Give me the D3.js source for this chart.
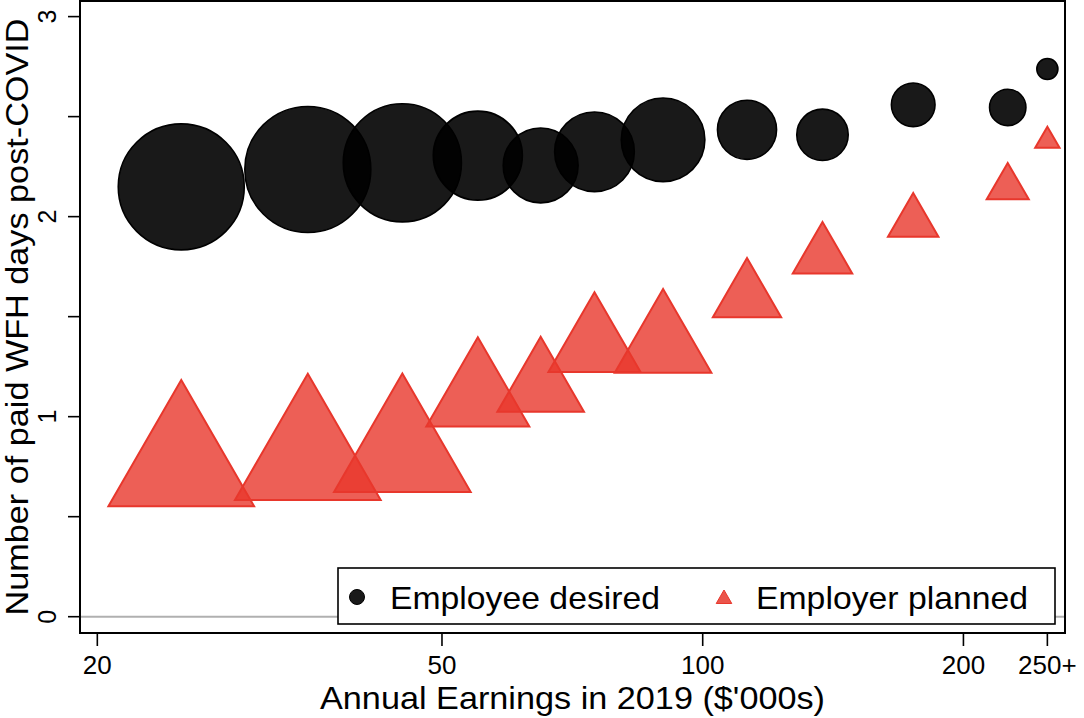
<!DOCTYPE html>
<html>
<head>
<meta charset="utf-8">
<script src="https://cdn.jsdelivr.net/npm/d3@7"></script>
<style>
  html, body { margin: 0; padding: 0; background: #fff; }
  svg { display: block; }
  text { font-family: "Liberation Sans", Arial, Helvetica, sans-serif; fill: #000; }
</style>
</head>
<body>
<svg id="chart" width="1084" height="718"></svg>
<script>
// ---- data ----
const earnings = [25, 35, 45, 55, 65, 75, 90, 112.5, 137.5, 175, 225, 250];
const employeeDesired = [2.149, 2.236, 2.269, 2.305, 2.256, 2.324, 2.384, 2.434, 2.409, 2.559, 2.546, 2.738];
const employerPlanned = [0.763, 0.794, 0.821, 1.100, 1.149, 1.356, 1.359, 1.596, 1.802, 1.972, 2.147, 2.379];
const sampleShare = [15, 15, 13.2, 7.5, 5.3, 6.0, 6.6, 3.3, 2.5, 1.8, 1.25, 0.42];
const xTickValues = [20, 50, 100, 200, 250];
const xTickLabels = ["20", "50", "100", "200", "250+"];
const yMajorTicks = [0, 1, 2, 3];
const yMinorTicks = [0.5, 1.5, 2.5];
const seriesNames = ["Employee desired", "Employer planned"];

// ---- layout ----
const W = 1084, H = 718;
const plot = { left: 80, right: 1065, top: 1, bottom: 633 };
const svg = d3.select("#chart");

const x = d3.scaleLog().domain([19.1, 262]).range([plot.left, plot.right]);
const y = d3.scaleLinear().domain([-0.0815, 3.078]).range([plot.bottom, plot.top]);
const r = d3.scaleSqrt().domain([0, 15]).range([0, 63]);

const RED_STROKE = "#e8372c";

// zero reference line
svg.append("line")
  .attr("x1", plot.left).attr("x2", plot.right)
  .attr("y1", y(0)).attr("y2", y(0))
  .attr("stroke", "#b0b0b0").attr("stroke-width", 2);

const data = earnings.map((e, i) => ({ e, d: employeeDesired[i], p: employerPlanned[i], w: sampleShare[i] }));

// circles (employee desired)
svg.append("g").selectAll("circle").data(data).join("circle")
  .attr("cx", d => x(d.e))
  .attr("cy", d => y(d.d))
  .attr("r", d => r(d.w))
  .attr("fill", "rgba(0,0,0,0.9)")
  .attr("stroke", "#000")
  .attr("stroke-width", 1.6);

// triangles (employer planned), centroid at value
const triSym = d3.symbol().type(d3.symbolTriangle);
svg.append("g").selectAll("path").data(data).join("path")
  .attr("transform", d => `translate(${x(d.e)},${y(d.p)})`)
  .attr("d", d => {
    const R = 1.335 * r(d.w);
    return triSym.size(3 * Math.sqrt(3) * (R / 2) * (R / 2))();
  })
  .attr("fill", "rgba(232,55,44,0.8)")
  .attr("stroke", RED_STROKE)
  .attr("stroke-width", 2);

// frame
svg.append("rect")
  .attr("x", plot.left).attr("y", plot.top)
  .attr("width", plot.right - plot.left).attr("height", plot.bottom - plot.top)
  .attr("fill", "none").attr("stroke", "#000").attr("stroke-width", 2);

// y axis ticks
const yAxisG = svg.append("g");
yAxisG.selectAll("line").data(yMajorTicks.concat(yMinorTicks)).join("line")
  .attr("x1", plot.left - 12).attr("x2", plot.left)
  .attr("y1", d => y(d)).attr("y2", d => y(d))
  .attr("stroke", "#000").attr("stroke-width", 1.6);
yAxisG.selectAll("text").data(yMajorTicks).join("text")
  .attr("transform", d => `translate(56,${y(d)}) rotate(-90)`)
  .attr("text-anchor", "middle")
  .attr("font-size", 25)
  .text(d => d3.format("d")(d));

// x axis ticks
const xAxisG = svg.append("g");
xAxisG.selectAll("line").data(xTickValues).join("line")
  .attr("x1", d => x(d)).attr("x2", d => x(d))
  .attr("y1", plot.bottom).attr("y2", plot.bottom + 13)
  .attr("stroke", "#000").attr("stroke-width", 1.6);
xAxisG.selectAll("text").data(xTickValues).join("text")
  .attr("x", d => x(d))
  .attr("y", 674)
  .attr("text-anchor", "middle")
  .attr("font-size", 26)
  .text((d, i) => xTickLabels[i]);

// axis titles
svg.append("text")
  .attr("x", (plot.left + plot.right) / 2)
  .attr("y", 709)
  .attr("text-anchor", "middle")
  .attr("font-size", 32)
  .attr("textLength", 505).attr("lengthAdjust", "spacingAndGlyphs")
  .text("Annual Earnings in 2019 ($'000s)");

svg.append("text")
  .attr("transform", `translate(28,${(plot.top + plot.bottom) / 2}) rotate(-90)`)
  .attr("text-anchor", "middle")
  .attr("font-size", 32)
  .attr("textLength", 597).attr("lengthAdjust", "spacingAndGlyphs")
  .text("Number of paid WFH days post-COVID");

// legend
const lg = svg.append("g");
lg.append("rect")
  .attr("x", 338).attr("y", 568).attr("width", 717).attr("height", 56)
  .attr("fill", "#fff").attr("stroke", "#000").attr("stroke-width", 1.6);
lg.append("circle")
  .attr("cx", 357).attr("cy", 597).attr("r", 7.5)
  .attr("fill", "rgba(0,0,0,0.9)").attr("stroke", "#000").attr("stroke-width", 1);
lg.append("path")
  .attr("transform", "translate(724,599)")
  .attr("d", d3.symbol().type(d3.symbolTriangle).size(3 * Math.sqrt(3) * 4.5 * 4.5)())
  .attr("fill", "rgba(232,55,44,0.85)").attr("stroke", RED_STROKE).attr("stroke-width", 1);
lg.append("text")
  .attr("x", 390).attr("y", 609)
  .attr("font-size", 32)
  .attr("textLength", 270).attr("lengthAdjust", "spacingAndGlyphs")
  .text(seriesNames[0]);
lg.append("text")
  .attr("x", 756).attr("y", 609)
  .attr("font-size", 32)
  .attr("textLength", 272).attr("lengthAdjust", "spacingAndGlyphs")
  .text(seriesNames[1]);
</script>
</body>
</html>
